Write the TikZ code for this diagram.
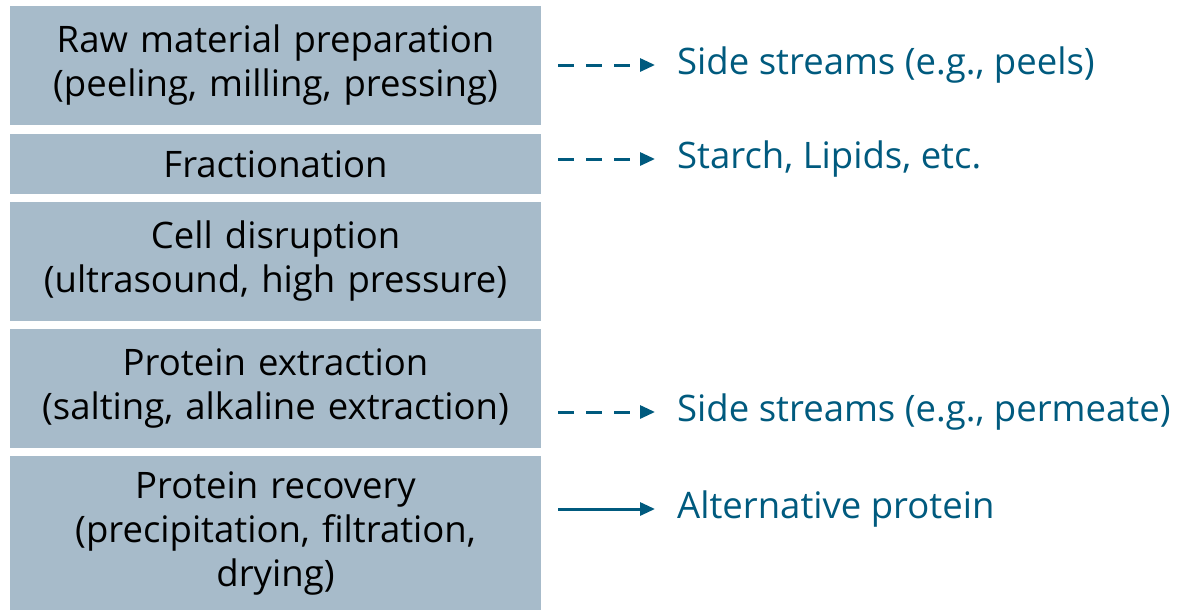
\documentclass[tikz,border=0pt]{standalone}
\usepackage{fontspec}
\setmainfont{Open Sans}
\usetikzlibrary{arrows.meta}
\definecolor{boxblue}{HTML}{A7BBCA}
\definecolor{streamblue}{HTML}{005A7E}
\tikzset{
    stage/.style={fill=boxblue, minimum width=531pt, text width=525pt, align=center, inner sep=0pt, font=\fontsize{36.5}{44}\selectfont},
    stream/.style={anchor=west, inner sep=0pt, inner xsep=22pt, text=streamblue, font=\fontsize{36.5}{44}\selectfont},
    side/.style={draw=streamblue, line width=3pt, dash pattern=on 16pt off 12pt, -{Triangle[length=15pt,width=13pt]}},
    main/.style={draw=streamblue, line width=3pt, -{Triangle[length=15pt,width=13pt]}}
}
\begin{document}
\begin{tikzpicture}[x=1pt,y=-1pt]
        \useasboundingbox (0,0) rectangle (1184,611);

        \node[stage, minimum height=119pt] (b1) at (275.5,65.5) {Raw material preparation\\(peeling, milling, pressing)};
        \node[stage, minimum height=60pt] (b2) at (275.5,164) {Fractionation};
        \node[stage, minimum height=119pt] (b3) at (275.5,261.5) {Cell disruption\\(ultrasound, high pressure)};
        \node[stage, minimum height=119pt] (b4) at (275.5,388.5) {Protein extraction\\(salting, alkaline extraction)};
        \node[stage, minimum height=154pt] (b5) at (275.5,533) {Protein recovery\\(precipitation, filtration,\\drying)};

        \node[stream] (o1) at (655,65) {Side streams (e.g., peels)};
        \node[stream] (o2) at (655,159) {Starch, Lipids, etc.};
        \node[stream] (o4) at (655,412) {Side streams (e.g., permeate)};
        \node[stream] (o5) at (655,509) {Alternative protein};

        \draw[side] ([xshift=17pt]o1.west -| b1.east) -- (o1.west);
        \draw[side] ([xshift=17pt]o2.west -| b2.east) -- (o2.west);
        \draw[side] ([xshift=17pt]o4.west -| b4.east) -- (o4.west);
        \draw[main] ([xshift=17pt]o5.west -| b5.east) -- (o5.west);

\end{tikzpicture}
\end{document}
